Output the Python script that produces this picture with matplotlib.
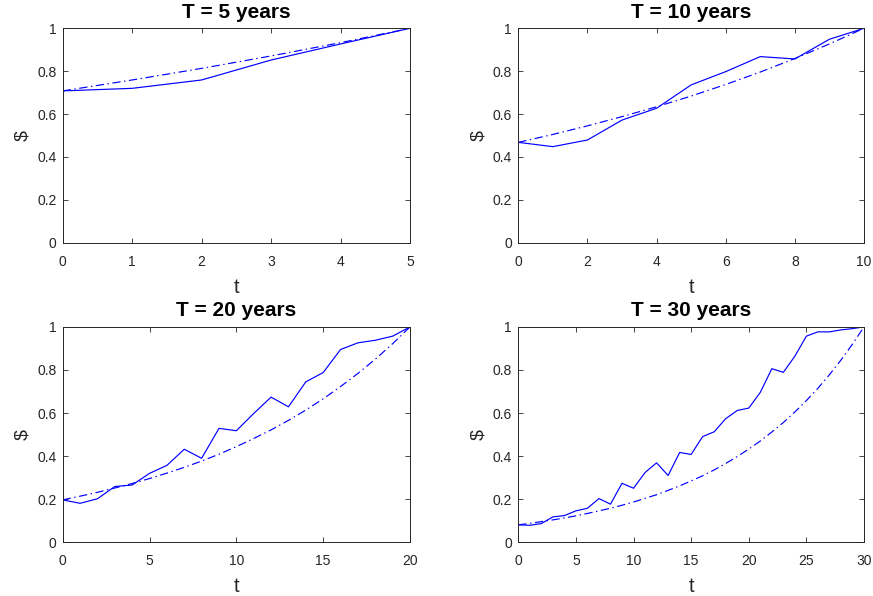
import matplotlib
matplotlib.use("Agg")
import matplotlib.pyplot as plt

plt.rcParams['font.family'] = ['Liberation Sans', 'DejaVu Sans']

titles = ["T = 5 years", "T = 10 years", "T = 20 years", "T = 30 years"]

t5 = list(range(0, 6))
sim5 = [0.708, 0.720, 0.759, 0.852, 0.927, 1.0]
disc5 = [0.708, 0.759, 0.813, 0.871, 0.933, 1.0]

t10 = list(range(0, 11))
sim10 = [0.468, 0.448, 0.479, 0.572, 0.627, 0.736, 0.798, 0.868, 0.857, 0.949, 1.0]
disc10 = [0.468, 0.505, 0.545, 0.588, 0.634, 0.684, 0.738, 0.796, 0.859, 0.927, 1.0]

t20 = list(range(0, 21))
sim20 = [0.197, 0.181, 0.202, 0.259, 0.266, 0.320, 0.357, 0.432, 0.390, 0.529,
         0.518, 0.598, 0.674, 0.629, 0.745, 0.788, 0.895, 0.926, 0.938, 0.957, 1.0]
disc20 = [0.197, 0.214, 0.232, 0.252, 0.273, 0.296, 0.321, 0.348, 0.377, 0.409,
          0.444, 0.482, 0.522, 0.566, 0.614, 0.666, 0.723, 0.784, 0.850, 0.922, 1.0]

t30 = list(range(0, 31))
sim30 = [0.081, 0.079, 0.087, 0.118, 0.124, 0.146, 0.158, 0.203, 0.177, 0.274,
         0.251, 0.324, 0.369, 0.310, 0.417, 0.408, 0.491, 0.513, 0.574, 0.612,
         0.623, 0.696, 0.806, 0.789, 0.864, 0.957, 0.977, 0.977, 0.986, 0.992, 1.0]
disc30 = [0.081, 0.088, 0.096, 0.104, 0.113, 0.123, 0.134, 0.146, 0.158, 0.172,
          0.187, 0.204, 0.221, 0.241, 0.262, 0.285, 0.309, 0.336, 0.366, 0.398,
          0.433, 0.470, 0.512, 0.556, 0.605, 0.658, 0.715, 0.778, 0.846, 0.920, 1.0]

xticks = [[0, 1, 2, 3, 4, 5], [0, 2, 4, 6, 8, 10], [0, 5, 10, 15, 20], [0, 5, 10, 15, 20, 25, 30]]
yticks = [0, 0.2, 0.4, 0.6, 0.8, 1]
ytick_labels = ["0", "0.2", "0.4", "0.6", "0.8", "1"]

panels = [(t5, sim5, disc5), (t10, sim10, disc10), (t20, sim20, disc20), (t30, sim30, disc30)]

W, H = 873, 596
fig = plt.figure(figsize=(W / 100, H / 100), dpi=100)

# axes rectangles in pixels: left, top, right, bottom
rects = [(62.7, 28.3, 410.0, 242.7), (518.3, 28.3, 864.0, 242.7),
         (62.7, 326.9, 410.0, 542.3), (518.3, 326.9, 864.0, 542.3)]

axcol = (0.15, 0.15, 0.15)
for i, ((t, s, d), (l, tp, r, b)) in enumerate(zip(panels, rects)):
    ax = fig.add_axes([l / W, 1 - b / H, (r - l) / W, (b - tp) / H])
    ax.plot(t, s, color=(0, 0, 1), lw=0.85)
    ax.plot(t, d, color=(0, 0, 1), lw=0.85, dashes=(7, 3, 1.2, 3))
    ax.set_xlim(0, t[-1])
    ax.set_ylim(0, 1)
    ax.set_xticks(xticks[i])
    ax.set_xticklabels([str(v) for v in xticks[i]])
    ax.set_yticks(yticks)
    ax.set_yticklabels(ytick_labels)
    ax.tick_params(direction='in', length=3.5, width=0.6, colors=axcol,
                   labelsize=10, top=True, right=True)
    ax.tick_params(axis='x', pad=8.5)
    ax.tick_params(axis='y', pad=4.5)
    for sp in ax.spines.values():
        sp.set_color(axcol)
        sp.set_linewidth(0.7)
    ax.set_title(titles[i], fontsize=15, fontweight='bold', pad=7.5)
    ax.set_xlabel("t", fontsize=14.5, color=axcol, labelpad=6.5)
    ax.set_ylabel(r"\$", fontsize=14, color=axcol, labelpad=4)

fig.savefig("out.png", dpi=100)
